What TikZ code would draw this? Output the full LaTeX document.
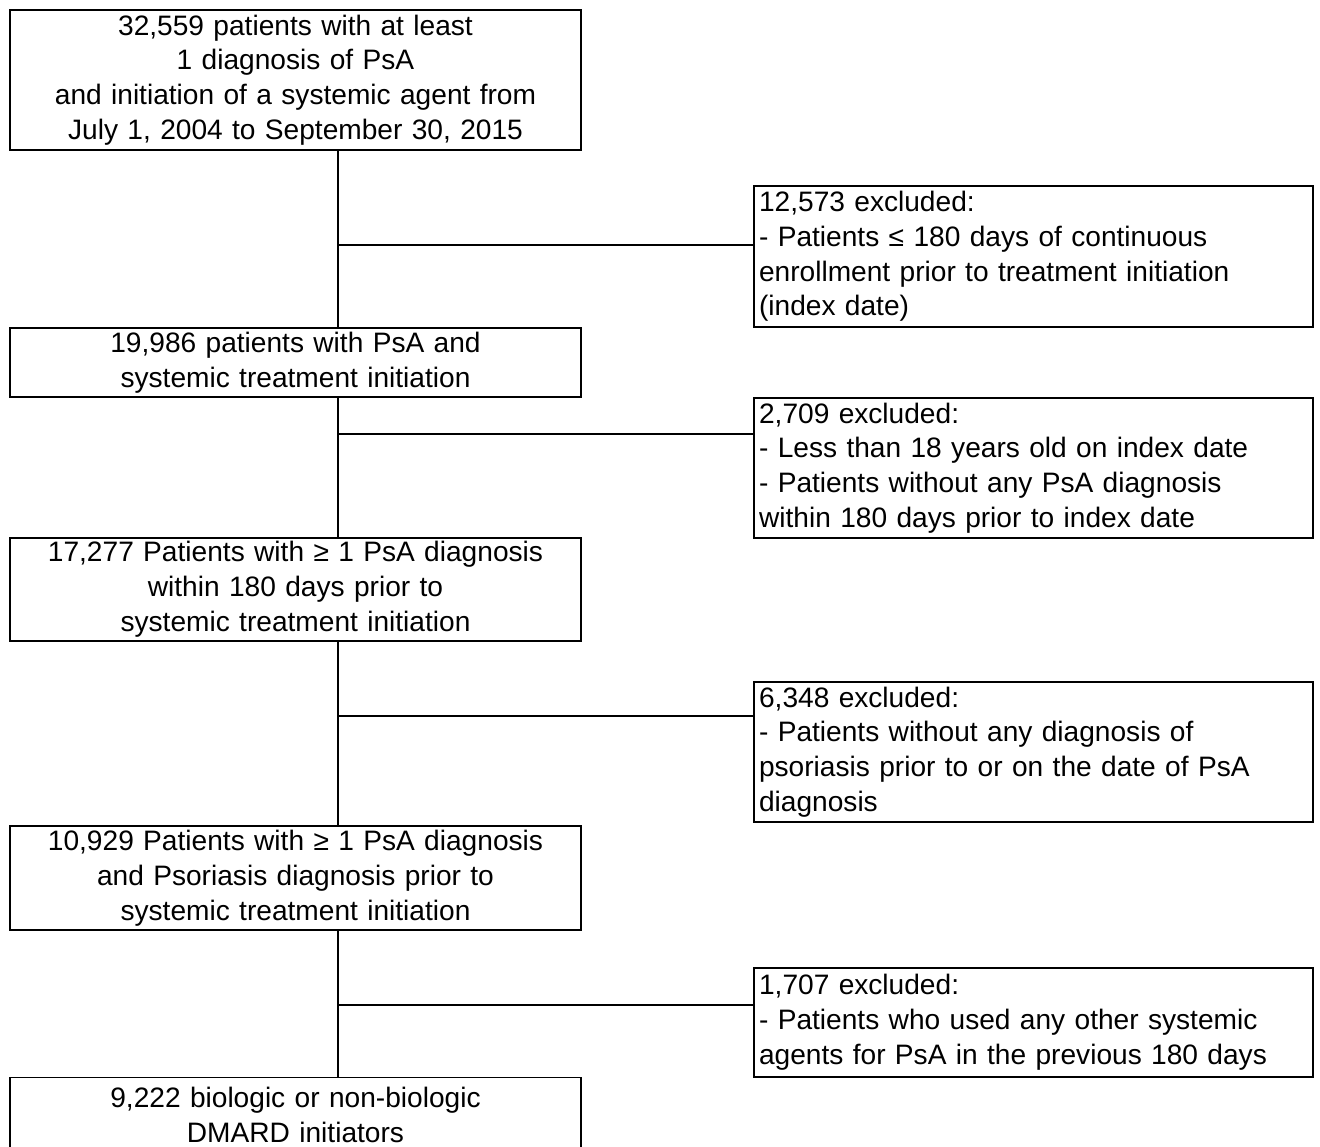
\documentclass[tikz,border=0pt]{standalone}
\usepackage{fontspec}
\setmainfont{Liberation Sans}

\begin{document}
\begin{tikzpicture}[x=0.02cm,y=-0.02cm,
  every node/.style={font=\fontsize{16}{19.8}\selectfont},
  mainbox/.style={draw,line width=1pt,text width=11.1cm,inner xsep=0.16cm,inner ysep=0pt,align=center},
  exclbox/.style={draw,line width=1pt,text width=10.98cm,inner xsep=0.1cm,inner ysep=0pt,align=left},
  link/.style={line width=1pt}]
\useasboundingbox (0,0) rectangle (1320,1147);

\node[mainbox,minimum height=2.8cm] (n1) at (295.5,80) {32,559 patients with at least\\ 1 diagnosis of PsA\\ and initiation of a systemic agent from\\ July 1, 2004 to September 30, 2015};
\node[mainbox,minimum height=1.38cm] (n2) at (295.5,362.5) {19,986 patients with PsA and\\ systemic treatment initiation};
\node[mainbox,minimum height=2.06cm] (n3) at (295.5,589.5) {17,277 Patients with ≥ 1 PsA diagnosis\\ within 180 days prior to\\ systemic treatment initiation};
\node[mainbox,minimum height=2.08cm] (n4) at (295.5,878) {10,929 Patients with ≥ 1 PsA diagnosis\\ and Psoriasis diagnosis prior to\\ systemic treatment initiation};
\node[mainbox,minimum height=1.5cm] (n5) at (295.5,1115) {9,222 biologic or non-biologic\\ DMARD initiators};

\node[exclbox,minimum height=2.82cm] (e1) at (1033.5,256.5) {12,573 excluded:\\ - Patients ≤ 180 days of continuous\\ enrollment prior to treatment initiation\\ (index date)};
\node[exclbox,minimum height=2.8cm] (e2) at (1033.5,468) {2,709 excluded:\\ - Less than 18 years old on index date\\ - Patients without any PsA diagnosis\\ within 180 days prior to index date};
\node[exclbox,minimum height=2.8cm] (e3) at (1033.5,752) {6,348 excluded:\\ - Patients without any diagnosis of\\ psoriasis prior to or on the date of PsA\\ diagnosis};
\node[exclbox,minimum height=2.18cm] (e4) at (1033.5,1022.5) {1,707 excluded:\\ - Patients who used any other systemic\\ agents for PsA in the previous 180 days};

% spine and branches
\coordinate (sp) at (338,0);
\coordinate (b1) at (338,245);
\coordinate (b2) at (338,434);
\coordinate (b3) at (338,716);
\coordinate (b4) at (338,1005);
\draw[link] (n1.south -| sp) -- (n2.north -| sp);
\draw[link] (n2.south -| sp) -- (n3.north -| sp);
\draw[link] (n3.south -| sp) -- (n4.north -| sp);
\draw[link] (n4.south -| sp) -- (n5.north -| sp);
\draw[link] (b1) -- (b1 -| e1.west);
\draw[link] (b2) -- (b2 -| e2.west);
\draw[link] (b3) -- (b3 -| e3.west);
\draw[link] (b4) -- (b4 -| e4.west);
\end{tikzpicture}
\end{document}
